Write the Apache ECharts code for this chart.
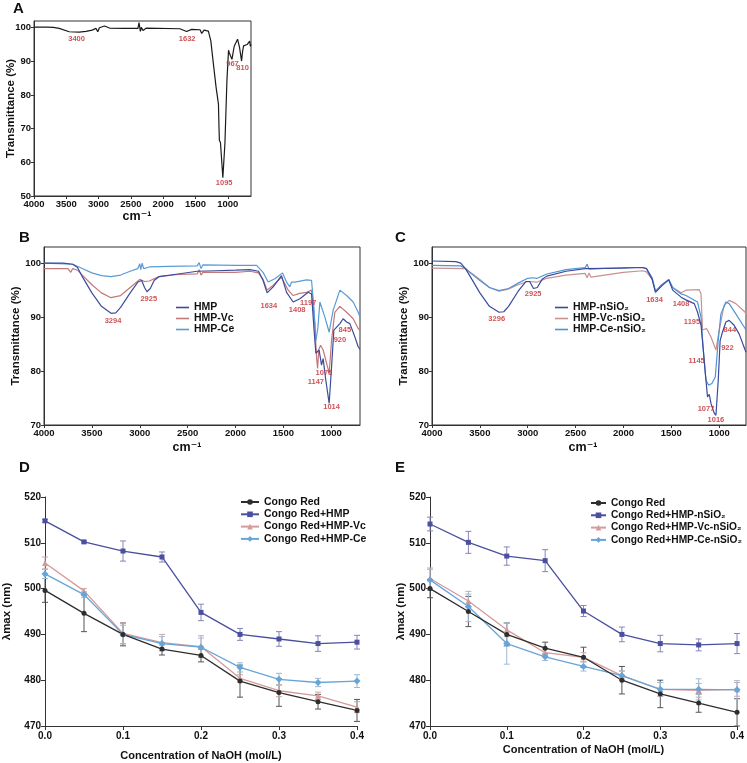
<!DOCTYPE html>
<html>
<head>
<meta charset="utf-8">
<script src="https://cdn.jsdelivr.net/npm/echarts@6/dist/echarts.min.js"></script>
<style>
  html, body { margin: 0; padding: 0; background: #fff; }
  #chart { width: 747px; height: 763px; }
</style>
</head>
<body>
<div id="chart"></div>
<script>
// ---- FTIR spectra: [wavenumber cm-1, transmittance %] ----
const specA = [[4000,100.2],[3800,100.2],[3700,100.1],[3610,99.8],[3455,98.8],[3300,98.7],[3195,98.9],[3100,99.3],[3039,99.8],[3013,98.8],[2987,100.0],[2909,100.5],[2831,99.9],[2600,99.8],[2390,99.8],[2374,101.5],[2353,98.9],[2338,100.1],[2312,99.2],[2260,99.9],[1741,99.7],[1637,98.9],[1559,99.5],[1429,99.4],[1403,98.3],[1367,99.3],[1300,99.0],[1262,96.1],[1222,89.2],[1180,82.2],[1144,77.3],[1135,70.0],[1129,66.5],[1113,65.9],[1076,55.4],[1044,65.5],[1013,84.2],[988,93.3],[975,92.5],[935,90.6],[900,94.5],[848,96.6],[817,94.1],[786,90.1],[770,93.0],[755,94.6],[700,95.0],[670,95.2],[660,96.0],[650,94.5],[640,95.0]]

const specHMP = [[4000,100],[3800,100],[3700,99.8],[3650,99.2],[3600,97.5],[3500,94.5],[3400,92.0],[3300,90.7],[3250,90.8],[3200,91.8],[3100,94.5],[3020,96.5],[2980,96.8],[2950,95.5],[2925,94.7],[2890,95.3],[2850,96.8],[2800,97.5],[2600,98.0],[2400,98.5],[2200,98.6],[2000,98.7],[1850,98.8],[1760,98.5],[1712,96.8],[1670,94.5],[1607,95.6],[1520,97.7],[1467,94.6],[1398,92.8],[1328,93.4],[1241,94.6],[1206,94.3],[1182,88.2],[1161,83.3],[1127,83.9],[1102,81.1],[1085,82.3],[1057,78.3],[1022,74.0],[997,80.8],[973,87.6],[910,88.8],[876,89.7],[840,89.1],[806,88.8],[753,86.3],[719,84.5],[700,84.0]]
const specHMPVc = [[4000,99.0],[3750,99.0],[3720,98.3],[3700,99.0],[3650,98.7],[3600,97.8],[3500,96.0],[3400,94.5],[3300,93.6],[3200,94.0],[3100,95.5],[3000,97.0],[2950,96.6],[2900,96.7],[2800,97.5],[2600,97.9],[2400,98.0],[2380,98.8],[2360,97.8],[2340,98.3],[2000,98.3],[1850,98.5],[1760,98.2],[1712,97.0],[1670,95.0],[1600,96.0],[1520,97.4],[1450,95.0],[1398,94.0],[1330,94.4],[1258,94.6],[1206,95.0],[1172,88.8],[1154,82.6],[1143,80.5],[1130,84.0],[1112,84.8],[1085,83.9],[1057,82.0],[1022,79.6],[997,85.7],[963,90.9],[910,92.0],[840,90.9],[771,89.7],[719,87.9],[700,87.5]]
const specHMPCe = [[4000,100],[3700,99.8],[3600,99.0],[3500,98.2],[3400,97.7],[3300,97.5],[3200,97.8],[3100,98.5],[3020,99.0],[3000,99.9],[2990,98.8],[2975,100.0],[2960,99.0],[2900,99.3],[2700,99.4],[2400,99.5],[2380,100.1],[2360,99.0],[2340,99.7],[2000,99.6],[1780,99.6],[1712,98.3],[1659,96.5],[1589,97.1],[1509,98.2],[1467,96.5],[1433,95.6],[1415,96.5],[1380,96.5],[1258,96.9],[1206,96.8],[1182,91.9],[1161,85.7],[1140,88.0],[1119,92.8],[1067,90.0],[1022,87.2],[980,91.3],[910,95.0],[840,94.0],[771,92.8],[719,90.9],[700,90.0]]

const specSi = [[4000,100.4],[3750,100.3],[3700,100.0],[3650,99.0],[3600,97.5],[3500,94.5],[3400,92.0],[3300,90.9],[3250,91.0],[3200,92.0],[3100,94.8],[3020,96.6],[2980,96.6],[2940,95.3],[2900,95.5],[2850,97.0],[2800,97.6],[2600,98.5],[2400,99.0],[2000,99.1],[1800,99.2],[1760,99.0],[1700,97.0],[1666,94.6],[1600,95.8],[1527,96.9],[1486,95.0],[1398,93.7],[1347,93.2],[1260,92.5],[1226,90.9],[1190,88.5],[1166,83.9],[1145,79.6],[1122,75.2],[1104,75.7],[1086,74.0],[1052,72.2],[1034,71.8],[1010,78.3],[990,85.7],[966,87.2],[930,89.1],[896,89.4],[844,88.5],[792,86.9],[729,83.9],[720,83.5]]
const specSiVc = [[4000,99.1],[3650,99.0],[3600,98.3],[3500,97.0],[3400,95.5],[3300,94.8],[3200,95.2],[3100,96.0],[3000,96.6],[2900,96.5],[2800,97.2],[2600,97.8],[2400,98.1],[2380,97.3],[2360,98.2],[2340,97.4],[2000,98.3],[1800,98.6],[1760,98.4],[1700,97.0],[1666,94.8],[1600,96.0],[1527,96.9],[1486,95.5],[1398,94.5],[1347,95.0],[1208,95.1],[1190,94.3],[1174,87.6],[1132,87.9],[1086,86.3],[1034,83.9],[1000,87.6],[948,92.2],[896,93.1],[826,92.5],[729,90.9],[720,90.5]]
const specSiCe = [[4000,99.6],[3700,99.5],[3650,99.0],[3600,98.2],[3500,96.8],[3400,95.5],[3300,94.9],[3200,95.3],[3100,96.3],[3000,97.2],[2950,97.3],[2900,97.2],[2800,98.0],[2600,98.8],[2400,99.2],[2380,99.8],[2360,98.9],[2000,99.2],[1800,99.2],[1760,99.0],[1700,97.3],[1666,94.8],[1600,96.0],[1527,97.0],[1486,95.5],[1398,94.3],[1347,94.0],[1226,92.8],[1190,90.0],[1166,83.9],[1138,78.3],[1111,77.4],[1076,77.7],[1041,78.9],[1010,85.7],[982,90.6],[930,92.8],[896,92.5],[826,90.6],[729,87.9],[720,87.5]]

// peak labels: [wavenumber, transmittance, text]
const peaksA = [[3341,96.6,'3400'],[1628,96.6,'1632'],[1056,54.0,'1095'],[927,89.2,'967'],[771,88.2,'810']]
const peaksB = [[3279,89.3,'3294'],[2906,93.3,'2925'],[1652,92.1,'1634'],[1356,91.3,'1408'],[1241,92.7,'1197'],[858,87.7,'845'],[910,85.8,'920'],[1077,79.7,'1076'],[1161,78.0,'1147'],[997,73.4,'1014']]
const peaksC = [[3324,89.6,'3296'],[2943,94.3,'2925'],[1676,93.1,'1634'],[1398,92.5,'1408'],[1284,89.1,'1195'],[889,87.7,'844'],[914,84.3,'922'],[1236,81.9,'1145'],[1138,72.9,'1077'],[1034,70.9,'1016']]

const ftirTicks = [1000, 1500, 2000, 2500, 3000, 3500, 4000]

// ---- Congo Red shift vs NaOH ----
const naoh = [0, 0.05, 0.1, 0.15, 0.2, 0.25, 0.3, 0.35, 0.4]

const dCongo = [499.6, 494.6, 490.0, 486.8, 485.4, 479.8, 477.3, 475.3, 473.4]
const dCongoErr = [2.6, 4.0, 2.5, 1.3, 1.4, 3.5, 3.0, 1.6, 2.4]
const dHMP = [514.8, 510.2, 508.2, 506.9, 494.8, 490.0, 489.0, 488.0, 488.3]
const dHMPErr = [0.3, 0.2, 2.2, 1.1, 1.8, 1.3, 1.6, 1.7, 1.5]
const dVc = [505.6, 499.5, 490.2, 488.2, 487.3, 480.4, 477.7, 476.6, 474.1]
const dVcErr = [1.3, 0.5, 2.3, 1.8, 2.4, 0.8, 1.3, 0.8, 1.2]
const dCe = [503.2, 498.7, 490.0, 488.0, 487.2, 482.8, 480.2, 479.5, 479.8]
const dCeErr = [1.0, 0.6, 2.0, 1.5, 2.0, 1.0, 1.3, 0.9, 1.4]

const eCongo = [500.0, 495.0, 490.0, 487.0, 485.0, 480.0, 477.0, 475.0, 473.0]
const eCongoErr = [2.0, 3.3, 2.5, 1.3, 2.2, 3.0, 3.0, 2.0, 3.0]
const eHMP = [514.1, 510.1, 507.1, 506.1, 495.1, 490.0, 488.0, 487.7, 488.0]
const eHMPErr = [1.5, 2.4, 2.0, 2.4, 1.2, 1.6, 1.8, 1.3, 2.2]
const eVc = [502.2, 497.3, 491.0, 486.0, 485.0, 481.0, 478.0, 477.8, 478.0]
const eVcErr = [2.3, 1.5, 1.5, 0.8, 1.0, 1.0, 1.5, 1.5, 1.5]
const eCe = [501.9, 496.1, 488.0, 485.1, 483.0, 481.0, 478.0, 478.0, 477.9]
const eCeErr = [2.3, 3.3, 4.5, 0.8, 1.0, 1.0, 1.5, 2.3, 2.0]

const FONT = 'Liberation Sans, Arial, DejaVu Sans, sans-serif'
const INK = '#111'
const RED = '#c0282d'

const C_BLACK = '#2e2e2e'
const C_HMP = '#4a4f9e'
const C_VC = '#d59a9a'
const C_CE = '#67a5d8'

function ftirX(grid, min, gap, shift) {
  return {
    type: 'value', gridIndex: grid, inverse: true, min: min, max: 4000,
    name: 'cm\u207B\u00B9', nameLocation: 'middle', nameGap: gap, nameMoveOverlap: false,
    nameTextStyle: { fontSize: 12.5, fontWeight: 'bold', color: INK, fontFamily: FONT, padding: [0, shift, 0, 0] },
    axisLine: { show: true, onZero: false, lineStyle: { color: '#333', width: 1 } },
    axisTick: { show: true, length: 3, customValues: ftirTicks, lineStyle: { color: '#333' } },
    axisLabel: { customValues: ftirTicks, formatter: v => String(v), fontSize: 9.5, fontWeight: 'bold', color: INK, fontFamily: FONT, margin: 3 },
    splitLine: { show: false }
  }
}

function ftirY(grid, min, max, ticks, gap) {
  return {
    type: 'value', gridIndex: grid, min: min, max: max,
    name: 'Transmittance (%)', nameLocation: 'middle', nameGap: gap, nameMoveOverlap: false,
    nameTextStyle: { fontSize: 11.5, fontWeight: 'bold', color: INK, fontFamily: FONT },
    axisLine: { show: true, onZero: false, lineStyle: { color: '#333', width: 1 } },
    axisTick: { show: true, length: 3, customValues: ticks, lineStyle: { color: '#333' } },
    axisLabel: { customValues: ticks, formatter: v => String(v), fontSize: 9.5, fontWeight: 'bold', color: INK, fontFamily: FONT, margin: 3 },
    splitLine: { show: false }
  }
}

function naohX(grid, gap) {
  return {
    type: 'value', gridIndex: grid, min: 0, max: 0.4, interval: 0.1,
    name: 'Concentration of NaOH (mol/L)', nameLocation: 'middle', nameGap: gap, nameMoveOverlap: false,
    nameTextStyle: { fontSize: 11, fontWeight: 'bold', color: INK, fontFamily: FONT },
    axisLine: { show: true, onZero: false, lineStyle: { color: '#333', width: 1 } },
    axisTick: { show: true, length: 4, lineStyle: { color: '#333' } },
    axisLabel: { formatter: v => v.toFixed(1), fontSize: 10, fontWeight: 'bold', color: INK, fontFamily: FONT, margin: 5 },
    splitLine: { show: false }
  }
}

function lamY(grid, gap) {
  return {
    type: 'value', gridIndex: grid, min: 470, max: 520, interval: 10,
    name: '\u03BBmax (nm)', nameLocation: 'middle', nameGap: gap, nameMoveOverlap: false,
    nameTextStyle: { fontSize: 11.5, fontWeight: 'bold', color: INK, fontFamily: FONT },
    axisLine: { show: true, onZero: false, lineStyle: { color: '#333', width: 1 } },
    axisTick: { show: true, length: 4, lineStyle: { color: '#333' } },
    axisLabel: { fontSize: 10, fontWeight: 'bold', color: INK, fontFamily: FONT, margin: 4 },
    splitLine: { show: false }
  }
}

function spectrum(name, data, color, idx) {
  return {
    name: name, type: 'line', xAxisIndex: idx, yAxisIndex: idx, data: data,
    showSymbol: false, symbol: 'none', smooth: false, animation: false, silent: true,
    lineStyle: { color: color, width: 1.2 }, itemStyle: { color: color }, z: 3
  }
}

function peakLabels(data, idx) {
  return {
    name: 'peaks' + idx, type: 'scatter', xAxisIndex: idx, yAxisIndex: idx,
    data: data.map(p => ({ value: [p[0], p[1]], label: { formatter: p[2] } })),
    symbolSize: 1, itemStyle: { color: 'rgba(0,0,0,0)' }, silent: true, animation: false, z: 5,
    label: { show: true, position: 'inside', color: RED, fontSize: 7.5, fontWeight: 'bold', fontFamily: FONT }
  }
}

function curve(name, ys, color, symbol, size, idx) {
  return {
    name: name, type: 'line', xAxisIndex: idx, yAxisIndex: idx,
    data: naoh.map((x, i) => [x, ys[i]]),
    symbol: symbol, symbolSize: size, showSymbol: true, animation: false, silent: true,
    lineStyle: { color: color, width: 1.3 }, itemStyle: { color: color }, z: 4
  }
}

function errBars(name, ys, errs, color, idx) {
  return {
    name: name, type: 'custom', xAxisIndex: idx, yAxisIndex: idx,
    data: naoh.map((x, i) => [x, ys[i], errs[i]]),
    silent: true, animation: false, z: 2,
    renderItem: function (params, api) {
      const x = api.value(0), y = api.value(1), e = api.value(2)
      const hi = api.coord([x, y + e])
      const lo = api.coord([x, y - e])
      const w = 3
      const st = { stroke: color, lineWidth: 1 }
      return {
        type: 'group',
        children: [
          { type: 'line', shape: { x1: hi[0], y1: hi[1], x2: lo[0], y2: lo[1] }, style: st },
          { type: 'line', shape: { x1: hi[0] - w, y1: hi[1], x2: hi[0] + w, y2: hi[1] }, style: st },
          { type: 'line', shape: { x1: lo[0] - w, y1: lo[1], x2: lo[0] + w, y2: lo[1] }, style: st }
        ]
      }
    }
  }
}

function ftirLegend(names, left, top) {
  return {
    data: names, left: left, top: top, orient: 'vertical', icon: 'rect',
    itemWidth: 13, itemHeight: 1.6, itemGap: 0, padding: 0,
    textStyle: { fontSize: 10.5, fontWeight: 'bold', color: INK, fontFamily: FONT, lineHeight: 11 }
  }
}

function lineLegend(names, left, top, w, fs) {
  return {
    data: names, left: left, top: top, orient: 'vertical',
    itemWidth: w, itemHeight: 7, itemGap: 0.3, padding: 0,
    textStyle: { fontSize: fs, fontWeight: 'bold', color: INK, fontFamily: FONT, lineHeight: 12 }
  }
}

function panelLetter(txt, x, y) {
  return {
    type: 'text', left: x, top: y,
    style: { text: txt, fontSize: 15, fontWeight: 'bold', fill: INK, fontFamily: FONT }
  }
}

const frame = { show: true, borderColor: '#333', borderWidth: 1, backgroundColor: 'transparent' }

const option = {
  animation: false,
  textStyle: { fontFamily: FONT },
  graphic: [
    panelLetter('A', 13, 1),
    panelLetter('B', 19, 230),
    panelLetter('C', 395, 230),
    panelLetter('D', 19, 460),
    panelLetter('E', 395, 460)
  ],
  grid: [
    Object.assign({ left: 34, top: 21, width: 217, height: 175 }, frame),
    Object.assign({ left: 44, top: 247, width: 316, height: 178 }, frame),
    Object.assign({ left: 432, top: 247, width: 314, height: 178 }, frame),
    { left: 44, top: 497, width: 313, height: 229 },
    { left: 430, top: 497, width: 312, height: 229 }
  ],
  xAxis: [
    ftirX(0, 640, 14, 11),
    ftirX(1, 700, 16, 30),
    ftirX(2, 720, 16, 12),
    naohX(3, 24),
    naohX(4, 18)
  ],
  yAxis: [
    ftirY(0, 50, 102, [50, 60, 70, 80, 90, 100], 17),
    ftirY(1, 70, 103, [70, 80, 90, 100], 22),
    ftirY(2, 70, 103, [70, 80, 90, 100], 22),
    lamY(3, 32),
    lamY(4, 23)
  ],
  legend: [
    ftirLegend(['HMP', 'HMP-Vc', 'HMP-Ce'], 176, 302),
    ftirLegend(['HMP-nSiO\u2082', 'HMP-Vc-nSiO\u2082', 'HMP-Ce-nSiO\u2082'], 555, 302),
    lineLegend(['Congo Red', 'Congo Red+HMP', 'Congo Red+HMP-Vc', 'Congo Red+HMP-Ce'], 240, 496, 18, 10.5),
    lineLegend(['Congo Red ', 'Congo Red+HMP-nSiO\u2082', 'Congo Red+HMP-Vc-nSiO\u2082', 'Congo Red+HMP-Ce-nSiO\u2082'], 590, 497, 15, 10.2)
  ],
  series: [
    spectrum('A', specA, '#1a1a1a', 0),
    peakLabels(peaksA, 0),

    spectrum('HMP-Vc', specHMPVc, '#c27878', 1),
    spectrum('HMP-Ce', specHMPCe, '#5b9bd5', 1),
    spectrum('HMP', specHMP, '#3c4c9c', 1),
    peakLabels(peaksB, 1),

    spectrum('HMP-Vc-nSiO\u2082', specSiVc, '#c99090', 2),
    spectrum('HMP-Ce-nSiO\u2082', specSiCe, '#4f94d4', 2),
    spectrum('HMP-nSiO\u2082', specSi, '#3a4a9f', 2),
    peakLabels(peaksC, 2),

    errBars('errD1', dCongo, dCongoErr, '#555', 3),
    errBars('errD2', dHMP, dHMPErr, '#8486b8', 3),
    errBars('errD3', dVc, dVcErr, '#c8a8a8', 3),
    errBars('errD4', dCe, dCeErr, '#9db9d4', 3),
    curve('Congo Red+HMP-Vc', dVc, C_VC, 'triangle', 6, 3),
    curve('Congo Red+HMP-Ce', dCe, C_CE, 'diamond', 7, 3),
    curve('Congo Red+HMP', dHMP, C_HMP, 'rect', 5, 3),
    curve('Congo Red', dCongo, C_BLACK, 'circle', 5, 3),

    errBars('errE1', eCongo, eCongoErr, '#555', 4),
    errBars('errE2', eHMP, eHMPErr, '#8486b8', 4),
    errBars('errE3', eVc, eVcErr, '#c8a8a8', 4),
    errBars('errE4', eCe, eCeErr, '#9db9d4', 4),
    curve('Congo Red+HMP-Vc-nSiO\u2082', eVc, C_VC, 'triangle', 6, 4),
    curve('Congo Red+HMP-Ce-nSiO\u2082', eCe, C_CE, 'diamond', 7, 4),
    curve('Congo Red+HMP-nSiO\u2082', eHMP, C_HMP, 'rect', 5, 4),
    curve('Congo Red ', eCongo, C_BLACK, 'circle', 5, 4)
  ]
}

const chart = echarts.init(document.getElementById('chart'), null, { renderer: 'canvas' })
chart.setOption(option)
</script>
</body>
</html>
